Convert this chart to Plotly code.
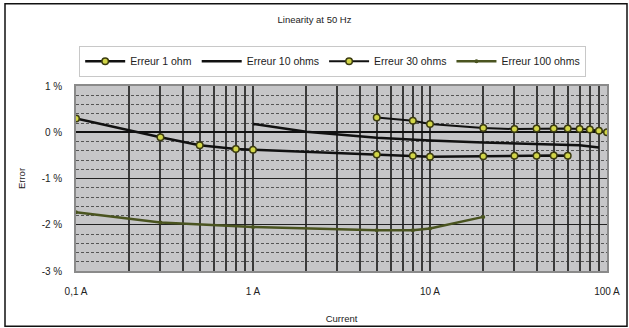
import plotly.graph_objects as go

# ---- data ----
current_1ohm = [0.1, 0.3, 0.5, 0.8, 1, 5, 8, 10, 20, 30, 40, 50, 60]
error_1ohm = [0.30, -0.11, -0.28, -0.36, -0.38, -0.48, -0.51, -0.53, -0.52, -0.51, -0.51, -0.50, -0.51]

current_10ohm = [1, 2, 5, 10, 20, 50, 70, 90]
error_10ohm = [0.18, 0.01, -0.12, -0.18, -0.22, -0.26, -0.28, -0.33]

current_30ohm = [5, 8, 10, 20, 30, 40, 50, 60, 70, 80, 90, 100]
error_30ohm = [0.32, 0.25, 0.18, 0.09, 0.07, 0.08, 0.08, 0.08, 0.07, 0.06, 0.03, 0.00]

current_100ohm = [0.1, 0.3, 1, 5, 8, 10, 20]
error_100ohm = [-1.73, -1.95, -2.05, -2.12, -2.12, -2.08, -1.83]

x_tickvals = [0.1, 0.2, 0.3, 0.4, 0.5, 0.6, 0.7, 0.8, 0.9,
              1, 2, 3, 4, 5, 6, 7, 8, 9,
              10, 20, 30, 40, 50, 60, 70, 80, 90, 100]
x_ticktext = ["0,1 A", "", "", "", "", "", "", "", "",
              "1 A", "", "", "", "", "", "", "", "",
              "10 A", "", "", "", "", "", "", "", "", "100 A"]
y_tickvals = [-3, -2, -1, 0, 1]
y_ticktext = ["-3 %", "-2 %", "-1 %", "0 %", "1 %"]

FONT = "Liberation Sans"
marker_style = dict(symbol="circle", size=6.5, color="#d2d648",
                    line=dict(color="#3c3c10", width=1.5))

fig = go.Figure()
fig.add_trace(go.Scatter(x=current_1ohm, y=error_1ohm, name="Erreur 1 ohm",
                         mode="lines+markers", line=dict(color="#111111", width=2.5),
                         marker=marker_style))
fig.add_trace(go.Scatter(x=current_10ohm, y=error_10ohm, name="Erreur 10 ohms",
                         mode="lines", line=dict(color="#111111", width=2.5)))
fig.add_trace(go.Scatter(x=current_30ohm, y=error_30ohm, name="Erreur 30 ohms",
                         mode="lines+markers", line=dict(color="#111111", width=2),
                         marker=marker_style))
fig.add_trace(go.Scatter(x=current_100ohm, y=error_100ohm, name="Erreur 100 ohms",
                         mode="lines+markers", line=dict(color="#4a5420", width=2.5),
                         marker=dict(symbol="circle", size=4, color="#4a5420")))

fig.update_layout(
    width=629, height=328,
    margin=dict(l=76, r=22, t=86, b=57),
    paper_bgcolor="white",
    plot_bgcolor="#c6c6c8",
    font=dict(family=FONT, size=9, color="#222222"),
    title=dict(text="Linearity at 50 Hz", x=0.5, xanchor="center", y=0.94, yanchor="middle",
               font=dict(family=FONT, size=9.5, color="#222222")),
    showlegend=True,
    legend=dict(orientation="h", x=0.006, xanchor="left", y=1.217, yanchor="top",
                bordercolor="#c8c8c8", borderwidth=1, bgcolor="white",
                font=dict(family=FONT, size=10.5, color="#222222"),
                itemwidth=40, tracegroupgap=0),
    xaxis=dict(type="log", range=[-1, 2], tickmode="array",
               tickvals=x_tickvals, ticktext=x_ticktext, automargin=False,
               showgrid=True, gridcolor="#3a3a3a", gridwidth=1.5,
               ticks="", showline=True, linecolor="#8a8a8a", linewidth=1.5, mirror=True,
               ticklabelstandoff=10,
               title=dict(text="Current", font=dict(family=FONT, size=9.5), standoff=20),
               tickfont=dict(family=FONT, size=10), zeroline=False),
    yaxis=dict(range=[-3, 1], tickmode="array", tickvals=y_tickvals, ticktext=y_ticktext,
               automargin=False,
               showgrid=True, gridcolor="#222222", gridwidth=1.2,
               zeroline=True, zerolinecolor="#111111", zerolinewidth=1.5,
               minor=dict(dtick=0.2, tick0=0, showgrid=True, gridcolor="#555555",
                          gridwidth=1.2, griddash="3px,2px"),
               ticks="", showline=True, linecolor="#8a8a8a", linewidth=1.5, mirror=True,
               ticklabelstandoff=10,
               title=dict(text="Error", font=dict(family=FONT, size=9.5), standoff=14),
               tickfont=dict(family=FONT, size=10)),
    shapes=[dict(type="rect", xref="paper", yref="paper",
                 x0=-71/531, x1=1 + 20/531, y0=-55/184.5, y1=1 + 82/184.5,
                 line=dict(color="#111111", width=1.5), fillcolor="rgba(0,0,0,0)",
                 layer="below")],
)

fig.write_html("out.html", config={"displayModeBar": False},
               post_script="document.body.style.margin='0';")
